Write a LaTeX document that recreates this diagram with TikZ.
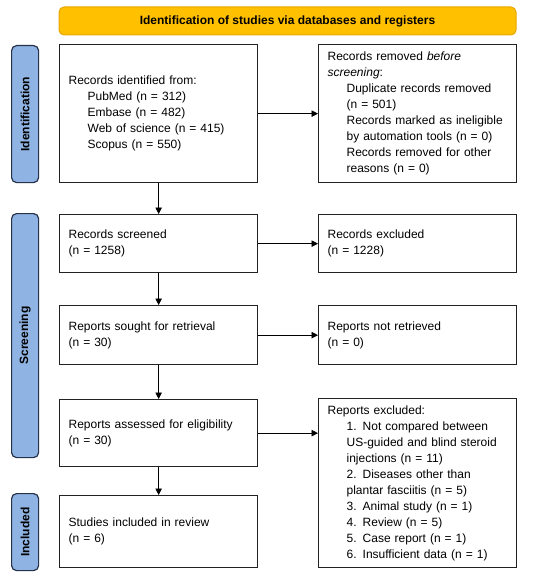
\documentclass[tikz,border=0pt]{standalone}
\usepackage{fontspec}
\setmainfont{Liberation Sans}
\usetikzlibrary{arrows.meta,positioning}
\definecolor{banner}{HTML}{FFC000}
\definecolor{bannerline}{HTML}{E8A600}
\definecolor{barfill}{HTML}{8FB4E3}
\definecolor{barline}{HTML}{26324A}
\definecolor{boxline}{HTML}{222222}
\tikzset{
  flowbox/.style={draw=boxline, line width=1.3pt, minimum width=198pt, text width=180pt,
    inner xsep=9pt, inner ysep=0pt, align=left, font=\fontsize{12}{16}\selectfont, anchor=north west},
  phasebar/.style={draw=barline, fill=barfill, line width=1.2pt, rounded corners=5pt,
    minimum width=27pt, inner sep=0pt, anchor=north west},
  phaselabel/.style={rotate=90, font=\bfseries\fontsize{12}{14}\selectfont, text=black},
  flowarrow/.style={draw=black, line width=0.8pt, -{Triangle[width=6.5pt,length=6.5pt]}},
}
\newcommand{\ind}{\hspace*{19pt}}
\begin{document}
\begin{tikzpicture}[x=1pt,y=-1pt]
\useasboundingbox (0,0) rectangle (550,580);
% banner
\node[draw=bannerline, fill=banner, line width=1pt, rounded corners=5pt, minimum width=457pt,
  minimum height=28pt, inner sep=0pt, font=\bfseries\fontsize{12}{14}\selectfont] (banner) at (287.5,21)
  {Identification of studies via databases and registers};
% phase bars
\node[phasebar, minimum height=137pt] (barid) at (11,45) {};
\node[phaselabel] at (barid.center) {Identification};
\node[phasebar, minimum height=244pt] (barsc) at (11,213) {};
\node[phaselabel] at (barsc.center) {Screening};
\node[phasebar, minimum height=77pt] (barin) at (11,493) {};
\node[phaselabel] at (barin.center) {Included};
% boxes
\node[flowbox, minimum height=138pt] (b1) at (59,44)
  {Records identified from:\\\ind PubMed (n = 312)\\\ind Embase (n = 482)\\\ind Web of science (n = 415)\\\ind Scopus (n = 550)};
\node[flowbox, minimum height=138pt] (b2) at (318,44)
  {Records removed \textit{before}\\\textit{screening}:\\\ind Duplicate records removed\\\ind (n = 501)\\\ind Records marked as ineligible\\\ind by automation tools (n = 0)\\\ind Records removed for other\\\ind reasons (n = 0)};
\node[flowbox, minimum height=58pt] (b3) at (59,214)
  {Records screened\\(n = 1258)};
\node[flowbox, minimum height=58pt] (b4) at (318,214)
  {Records excluded\\(n = 1228)};
\node[flowbox, minimum height=59pt] (b5) at (59,305)
  {Reports sought for retrieval\\(n = 30)};
\node[flowbox, minimum height=59pt] (b6) at (318,305)
  {Reports not retrieved\\(n = 0)};
\node[flowbox, minimum height=67pt] (b7) at (59,399)
  {Reports assessed for eligibility\\(n = 30)};
\node[flowbox, minimum height=169pt] (b8) at (318,398)
  {Reports excluded:\\\ind 1. Not compared between\\\ind US-guided and blind steroid\\\ind injections (n = 11)\\\ind 2. Diseases other than\\\ind plantar fasciitis (n = 5)\\\ind 3. Animal study (n = 1)\\\ind 4. Review (n = 5)\\\ind 5. Case report (n = 1)\\\ind 6. Insufficient data (n = 1)};
\node[flowbox, minimum height=72pt] (b9) at (59,495)
  {Studies included in review\\(n = 6)};
% arrows
\draw[flowarrow] (b1.east) -- (b1.east -| b2.west);
\draw[flowarrow] (b3.east) -- (b3.east -| b4.west);
\draw[flowarrow] (b5.east) -- (b5.east -| b6.west);
\draw[flowarrow] (b7.east) -- (b7.east -| b8.west);
\draw[flowarrow] (b1.south) -- (b3.north);
\draw[flowarrow] (b3.south) -- (b5.north);
\draw[flowarrow] (b5.south) -- (b7.north);
\draw[flowarrow] (b7.south) -- (b9.north);
\end{tikzpicture}
\end{document}
